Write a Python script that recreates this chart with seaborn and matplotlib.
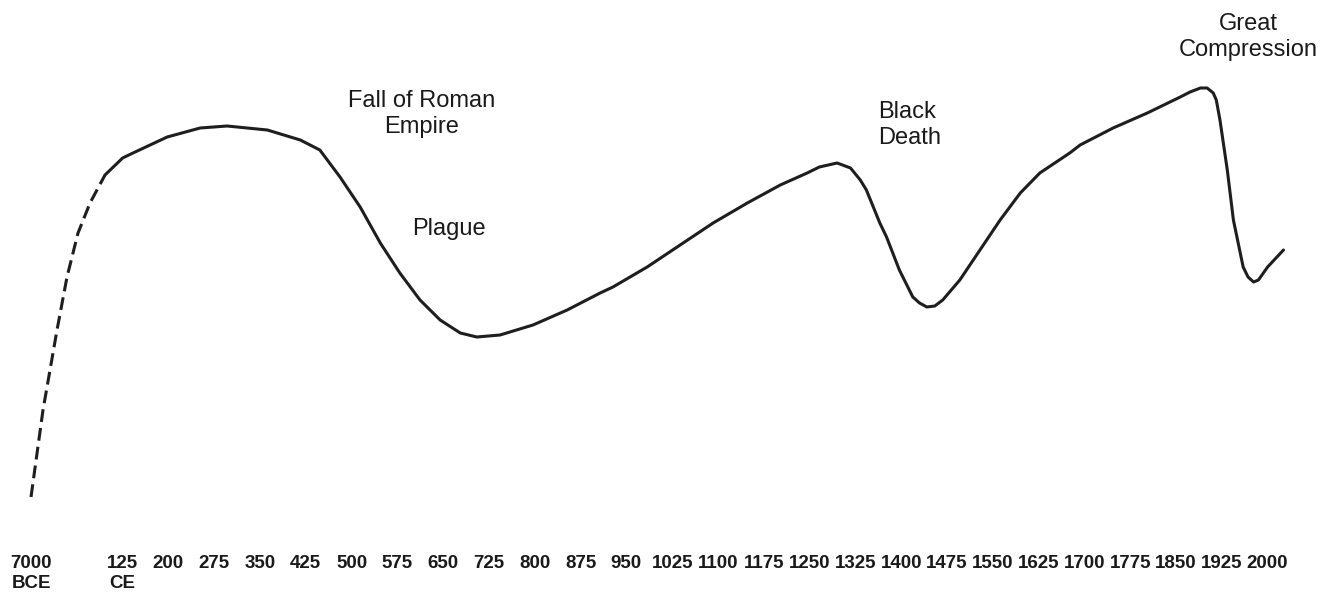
import numpy as np
import pandas as pd
import matplotlib
matplotlib.use("Agg")
import matplotlib.pyplot as plt
import seaborn as sns

# ---- data (years; population level in arbitrary units) ----
dashed_years = [-7000, -6067, -4977, -4200, -3344, -2411, -1243]
dashed_level = [48, 135, 215, 268, 312, 342, 370]

solid_years = [-1243, 125, 142, 198, 252, 296, 362, 416, 448, 481, 514, 547, 579,
               612, 645, 678, 705, 743, 797, 853, 907, 928, 984, 1038, 1092, 1148,
               1202, 1246, 1266, 1295, 1317, 1333, 1343, 1365, 1376, 1397, 1419,
               1430, 1442, 1455, 1468, 1496, 1529, 1562, 1595, 1627, 1676, 1693,
               1747, 1803, 1857, 1873, 1890, 1901, 1911, 1916, 1922, 1934, 1944,
               1960, 1968, 1977, 1985, 2000, 2026]
solid_level = [370, 387, 392, 408, 417, 419, 415, 405, 395, 368, 338, 302, 272,
               245, 225, 212, 208, 210, 220, 235, 252, 258, 278, 300, 322, 342,
               360, 372, 378, 382, 377, 365, 355, 322, 308, 275, 248,
               242, 238, 239, 245, 265, 295, 325, 352, 372, 392, 400,
               417, 432, 448, 453, 457, 457, 452, 445, 425, 375, 325,
               278, 268, 263, 265, 278, 295]

tick_years = [-7000] + list(range(125, 2001, 75))
tick_labels = ["7000\nBCE", "125\nCE"] + [str(y) for y in range(200, 2001, 75)]

event_labels = ["Fall of Roman\nEmpire", "Plague", "Black\nDeath", "Great\nCompression"]
event_years = [615, 660, 1362, 1968]
event_level = [431, 316, 420, 508]
event_ha = ["center", "center", "left", "center"]

# ---- style ----
sns.set_theme(style="white")
plt.rcParams["font.family"] = ["Liberation Sans", "DejaVu Sans"]

fig = plt.figure(figsize=(13.25, 5.94), dpi=100)
ax = fig.add_axes([0, 49 / 594, 1, 545 / 594])

dashed_df = pd.DataFrame({"year": dashed_years, "level": dashed_level})
solid_df = pd.DataFrame({"year": solid_years, "level": solid_level})

line_color = "#1e1e1e"
sns.lineplot(data=dashed_df, x="year", y="level", ax=ax, sort=False,
             estimator=None, color=line_color, linewidth=2.2,
             dashes=False, linestyle=(0, (4.2, 2.0)))
sns.lineplot(data=solid_df, x="year", y="level", ax=ax, sort=False,
             estimator=None, color=line_color, linewidth=2.2)
for ln in ax.lines:
    ln.set_solid_joinstyle("round")
    ln.set_solid_capstyle("round")


def fwd(y):
    y = np.asarray(y, dtype=float)
    return np.where(y < 125, (y + 7000) / 3562.5, 2 + (y - 125) / 75)


def inv(u):
    u = np.asarray(u, dtype=float)
    return np.where(u < 2, -7000 + u * 3562.5, 125 + (u - 2) * 75)


ax.set_xscale("function", functions=(fwd, inv))
ax.set_xlim(-9412, 2094)
ax.set_ylim(0, 545)

ax.set_xticks(tick_years)
ax.set_xticklabels(tick_labels, fontsize=13.5, fontweight="bold",
                   color="#1a1a1a", linespacing=1.2)
ax.set_yticks([])
ax.tick_params(axis="x", length=0, pad=7.5)
ax.set_xlabel("")
ax.set_ylabel("")
for s in ax.spines.values():
    s.set_visible(False)

for lab, yr, lv, ha in zip(event_labels, event_years, event_level, event_ha):
    ax.text(yr, lv, lab, ha=ha, va="center", multialignment=ha,
            fontsize=17, color="#1a1a1a", linespacing=1.2)

fig.savefig("out.png", dpi=100, facecolor="white")
